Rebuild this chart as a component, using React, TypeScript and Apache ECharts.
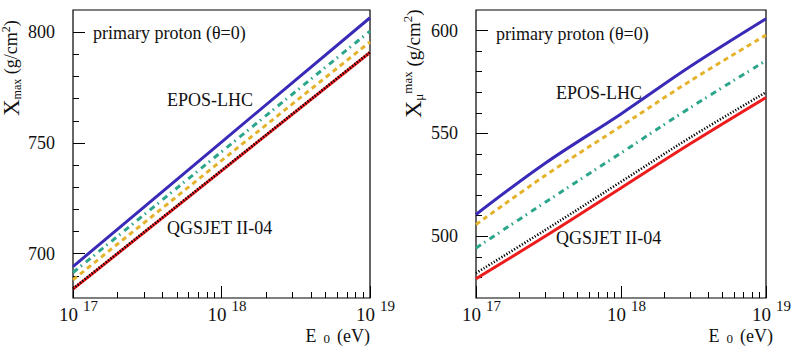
import React, { useEffect, useRef } from "react";
import * as echarts from "echarts";

// Primary energy E0 (eV)
const energyLeft = [1e17, 1e18, 1e19];
const energyRight = [1e17, 3e17, 1e18, 3e18, 1e19];

// Depth of shower maximum Xmax (g/cm^2)
const xmaxBlue = [694.2, 750.4, 806.5];
const xmaxTeal = [691.5, 746.0, 800.5];
const xmaxYellow = [688.2, 742.0, 795.6];
const xmaxRed = [684.0, 737.4, 790.8];
const xmaxBlack = [684.2, 737.6, 791.0];

// Muon production depth maximum X_mu^max (g/cm^2)
const xmuBlue = [510.6, 535.5, 559.5, 582.5, 605.7];
const xmuYellow = [505.7, 529.5, 553.5, 575.5, 597.8];
const xmuTeal = [494.3, 516.5, 540.5, 562.5, 585.4];
const xmuBlack = [482.1, 503.0, 526.5, 548.0, 570.0];
const xmuRed = [479.4, 500.0, 523.5, 545.0, 567.5];

// Tick positions
const xMajorTicks = [1e17, 1e18, 1e19];
const xMinorTicks = [2e17, 3e17, 4e17, 5e17, 6e17, 7e17, 8e17, 9e17, 2e18, 3e18, 4e18, 5e18, 6e18, 7e18, 8e18, 9e18];
const leftMajorY = [700, 750, 800];
const leftMinorY = [690, 710, 720, 730, 740, 760, 770, 780, 790];
const rightMajorY = [500, 550, 600];
const rightMinorY = [480, 490, 510, 520, 530, 540, 560, 570, 580, 590];

const FONT = '"Liberation Serif", "DejaVu Serif", "Times New Roman", serif';
const INK = "#111";

const BLUE = "#3a2ab8";
const TEAL = "#2ba68b";
const YELLOW = "#e4b22b";
const RED = "#ee1d1d";
const BLACK = "#000";

const GRID_TOP = 10;
const GRID_H = 288;
const GRID_W = 297;
const LEFT_X = 73;
const RIGHT_X = 476;

function pairs(xs: number[], ys: number[]) {
  return xs.map((x, i) => [x, ys[i]]);
}

function decade(v: number) {
  return v > 100 ? Math.round(Math.log10(v)) : Math.round(v);
}

// Two overlaid log axes per panel: one carries the long decade ticks and the
// "10" mantissa, the other the short ticks and the raised exponent.
function xAxesFor(gridIndex: number) {
  const base = {
    type: "log" as const,
    logBase: 10,
    gridIndex,
    min: 1e17,
    max: 1e19,
    position: "bottom" as const,
    axisLine: { show: false },
    splitLine: { show: false },
    minorTick: { show: false },
    minorSplitLine: { show: false },
  };
  return [
    {
      ...base,
      axisTick: {
        show: true,
        inside: true,
        length: 12,
        customValues: xMajorTicks,
        lineStyle: { color: BLACK, width: 1 },
      },
      axisLabel: {
        show: true,
        customValues: xMajorTicks,
        margin: 8,
        align: "center",
        padding: [0, 9, 0, 0],
        fontFamily: FONT,
        fontSize: 19,
        lineHeight: 17,
        color: INK,
        formatter: () => "10",
      },
    },
    {
      ...base,
      axisTick: {
        show: true,
        inside: true,
        length: 6,
        customValues: xMinorTicks,
        lineStyle: { color: BLACK, width: 1 },
      },
      axisLabel: {
        show: true,
        customValues: xMajorTicks,
        margin: 0,
        align: "left",
        padding: [0, 0, 0, 10],
        fontFamily: FONT,
        fontSize: 15,
        color: INK,
        formatter: (v: number) => String(decade(v)),
      },
    },
  ];
}

function yAxesFor(gridIndex: number, min: number, max: number, major: number[], minor: number[]) {
  const base = {
    type: "value" as const,
    gridIndex,
    min,
    max,
    position: "left" as const,
    axisLine: { show: false },
    splitLine: { show: false },
  };
  return [
    {
      ...base,
      axisTick: {
        show: true,
        inside: true,
        length: 12,
        customValues: major,
        lineStyle: { color: BLACK, width: 1 },
      },
      axisLabel: {
        show: true,
        customValues: major,
        margin: 18,
        fontFamily: FONT,
        fontSize: 18,
        color: INK,
      },
    },
    {
      ...base,
      axisTick: {
        show: true,
        inside: true,
        length: 6,
        customValues: minor,
        lineStyle: { color: BLACK, width: 1 },
      },
      axisLabel: { show: false },
    },
  ];
}

function lineSeries(
  name: string,
  axisIndex: number,
  xs: number[],
  ys: number[],
  color: string,
  type: any,
  width = 3,
  smooth: number | boolean = false
) {
  return {
    name,
    type: "line" as const,
    xAxisIndex: axisIndex,
    yAxisIndex: axisIndex,
    data: pairs(xs, ys),
    symbol: "none",
    smooth,
    lineStyle: { color, width, type, cap: "butt" },
    silent: true,
  };
}

function text(x: number, y: number, s: string) {
  return {
    type: "text",
    x,
    y,
    style: {
      text: s,
      font: `18px ${FONT}`,
      fontFamily: FONT,
      fontSize: 18,
      fill: INK,
      align: "left",
      verticalAlign: "middle",
    },
  };
}

const leftTitleRich = {
  X: { fontFamily: FONT, fontSize: 23, fill: INK, color: INK, verticalAlign: "middle" },
  t: { fontFamily: FONT, fontSize: 18, fill: INK, color: INK, verticalAlign: "middle" },
  sub: { fontFamily: FONT, fontSize: 12, fill: INK, color: INK, verticalAlign: "bottom" },
  sup: { fontFamily: FONT, fontSize: 12, fill: INK, color: INK, verticalAlign: "top" },
};

const rightTitleRich = {
  X: { fontFamily: FONT, fontSize: 24, fill: INK, color: INK, verticalAlign: "middle" },
  t: { fontFamily: FONT, fontSize: 19, fill: INK, color: INK, verticalAlign: "middle" },
  sub: { fontFamily: FONT, fontSize: 13, fill: INK, color: INK, verticalAlign: "bottom" },
  sup: { fontFamily: FONT, fontSize: 13, fill: INK, color: INK, verticalAlign: "top" },
};

const energyTitleRich = {
  a: { fontFamily: FONT, fontSize: 18, lineHeight: 17, fill: INK, color: INK },
  s: { fontFamily: FONT, fontSize: 13, lineHeight: 13, fill: INK, color: INK, verticalAlign: "bottom", padding: [13, 7, 0, 7] },
};

export default function App() {
  const ref = useRef<HTMLDivElement | null>(null);

  useEffect(() => {
    if (!ref.current) return;
    const chart = echarts.init(ref.current, null, { renderer: "svg" });

    const dash = [5, 4];
    const dashDot = [6, 4, 1.5, 5];
    const dotted = [1.2, 1.8];
    const curve = 0.35;

    chart.setOption({
      animation: false,
      backgroundColor: "#fff",
      textStyle: { fontFamily: FONT },
      grid: [
        {
          left: LEFT_X,
          top: GRID_TOP,
          width: GRID_W,
          height: GRID_H,
          show: true,
          borderColor: BLACK,
          borderWidth: 1.2,
          backgroundColor: "transparent",
        },
        {
          left: RIGHT_X,
          top: GRID_TOP,
          width: GRID_W,
          height: GRID_H,
          show: true,
          borderColor: BLACK,
          borderWidth: 1.2,
          backgroundColor: "transparent",
        },
      ],
      xAxis: [...xAxesFor(0), ...xAxesFor(1)],
      yAxis: [
        ...yAxesFor(0, 680, 810, leftMajorY, leftMinorY),
        ...yAxesFor(1, 470, 610, rightMajorY, rightMinorY),
      ],
      series: [
        lineSeries("Xmax blue", 0, energyLeft, xmaxBlue, BLUE, "solid"),
        lineSeries("Xmax teal", 0, energyLeft, xmaxTeal, TEAL, dashDot),
        lineSeries("Xmax yellow", 0, energyLeft, xmaxYellow, YELLOW, dash),
        lineSeries("Xmax red", 0, energyLeft, xmaxRed, RED, "solid"),
        lineSeries("Xmax black", 0, energyLeft, xmaxBlack, BLACK, dotted, 2.6),
        lineSeries("Xmu blue", 2, energyRight, xmuBlue, BLUE, "solid", 3, curve),
        lineSeries("Xmu yellow", 2, energyRight, xmuYellow, YELLOW, dash, 3, curve),
        lineSeries("Xmu teal", 2, energyRight, xmuTeal, TEAL, dashDot, 3, curve),
        lineSeries("Xmu red", 2, energyRight, xmuRed, RED, "solid", 3, curve),
        lineSeries("Xmu black", 2, energyRight, xmuBlack, BLACK, dotted, 2.6, curve),
      ],
      graphic: [
        text(93, 33, "primary proton (θ=0)"),
        text(167, 100, "EPOS-LHC"),
        text(167, 228, "QGSJET II-04"),
        text(496, 34, "primary proton (θ=0)"),
        text(556, 92.5, "EPOS-LHC"),
        text(556, 238, "QGSJET II-04"),
        {
          type: "text",
          x: 370,
          y: 336,
          style: {
            text: "{a|E}{s|0}{a|(eV)}",
            align: "right",
            verticalAlign: "middle",
            rich: energyTitleRich,
          },
        },
        {
          type: "text",
          x: 773,
          y: 336,
          style: {
            text: "{a|E}{s|0}{a|(eV)}",
            align: "right",
            verticalAlign: "middle",
            rich: energyTitleRich,
          },
        },
        {
          type: "text",
          x: 11,
          y: 116,
          rotation: Math.PI / 2,
          style: {
            text: "{X|X}{sub|max}{t| (g/cm}{sup|2}{t|)}",
            align: "left",
            verticalAlign: "middle",
            rich: leftTitleRich,
          },
        },
        {
          type: "text",
          x: 413,
          y: 118,
          rotation: Math.PI / 2,
          style: {
            text: "{X|X}{sub|μ}{sup|max}{t| (g/cm}{sup|2}{t|)}",
            align: "left",
            verticalAlign: "middle",
            rich: rightTitleRich,
          },
        },
      ],
    });

    return () => chart.dispose();
  }, []);

  return (
    <div
      ref={ref}
      style={{ position: "fixed", left: 0, top: 0, width: 794, height: 350, background: "#fff" }}
    />
  );
}
